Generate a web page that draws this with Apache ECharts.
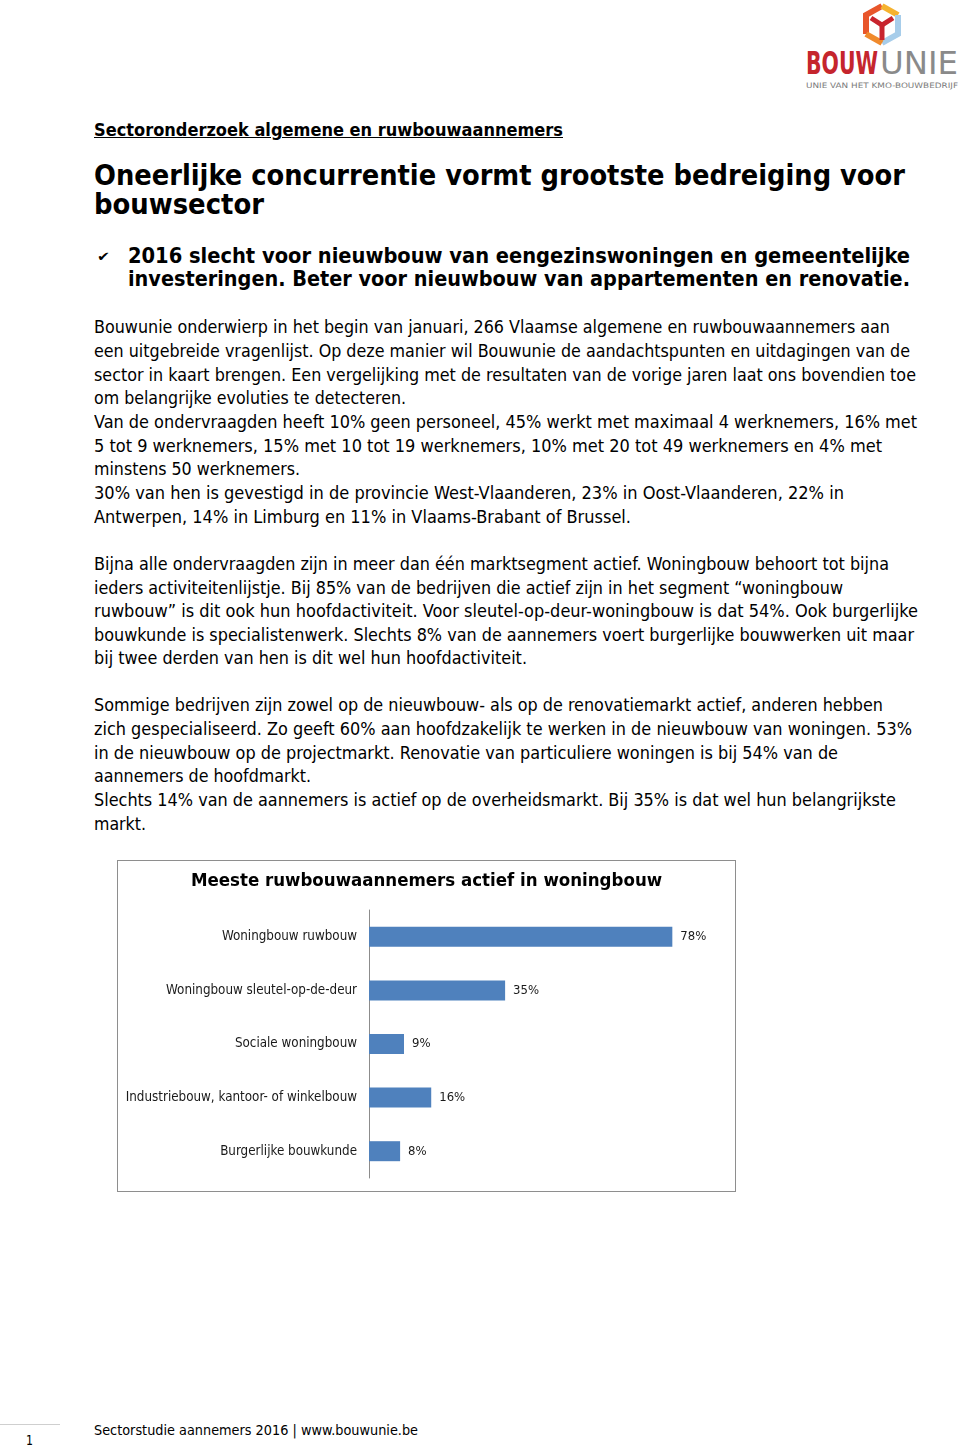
<!DOCTYPE html>
<html>
<head>
<meta charset="utf-8">
<script src="https://cdn.jsdelivr.net/npm/echarts@6/dist/echarts.min.js"></script>
<style>
  html,body{margin:0;padding:0;background:#fff;}
  body{width:960px;height:1449px;position:relative;overflow:hidden;font-family:"DejaVu Sans Condensed","DejaVu Sans",sans-serif;color:#000;}
  .ln{position:absolute;white-space:nowrap;transform-origin:0 50%;}
  #chartBox{position:absolute;left:117px;top:860px;width:617px;height:330px;border:1px solid #8e8e8e;}
  #chart{width:617px;height:330px;}
</style>
</head>
<body>
<!-- logo icon -->
<svg style="position:absolute;left:800px;top:0" width="160" height="48" viewBox="800 0 160 48">
  <polyline points="866,34 866,15 882,6" fill="none" stroke="#e8562b" stroke-width="6" stroke-linejoin="miter"/>
  <polyline points="882,6 898,15" fill="none" stroke="#f5b22f" stroke-width="6"/>
  <polyline points="898,15 898,34 882,43" fill="none" stroke="#a7cdea" stroke-width="6"/>
  <polyline points="882,43 866,34" fill="none" stroke="#f08a2c" stroke-width="6"/>
  <polyline points="871,18 882,25 893,18" fill="none" stroke="#c8242e" stroke-width="5"/>
  <line x1="882" y1="24" x2="882" y2="40" stroke="#c8242e" stroke-width="5"/>
</svg>

<div id="page"></div>

<div id="chartBox"><div id="chart"></div></div>

<div style="position:absolute;left:0;top:1424px;width:60px;height:1px;background:#cfcfcf"></div>

<script>
// ---------- page text (text, left x, centre y, right x, style) ----------
const pageLines = [
  ["BOUW", 806, 62.5, 878, "logoB"],
  ["UNIE", 880, 62.5, 958, "logoU"],
  ["UNIE VAN HET KMO-BOUWBEDRIJF", 806, 85.5, 958, "logoS"],
  ["Sectoronderzoek algemene en ruwbouwaannemers", 94, 130, 563, "sub"],
  ["Oneerlijke concurrentie vormt grootste bedreiging voor", 94, 176, 905, "h1"],
  ["bouwsector", 94, 205, 264, "h1"],
  ["2016 slecht voor nieuwbouw van eengezinswoningen en gemeentelijke", 128, 256, 910, "h2"],
  ["investeringen. Beter voor nieuwbouw van appartementen en renovatie.", 128, 279, 910, "h2"],
  ["Bouwunie onderwierp in het begin van januari, 266 Vlaamse algemene en ruwbouwaannemers aan", 94, 327, 890, "body"],
  ["een uitgebreide vragenlijst. Op deze manier wil Bouwunie de aandachtspunten en uitdagingen van de", 94, 351, 910, "body"],
  ["sector in kaart brengen. Een vergelijking met de resultaten van de vorige jaren laat ons bovendien toe", 94, 375, 916, "body"],
  ["om belangrijke evoluties te detecteren.", 94, 398, 406, "body"],
  ["Van de ondervraagden heeft 10% geen personeel, 45% werkt met maximaal 4 werknemers, 16% met", 94, 422, 917, "body"],
  ["5 tot 9 werknemers, 15% met 10 tot 19 werknemers, 10% met 20 tot 49 werknemers en 4% met", 94, 446, 882, "body"],
  ["minstens 50 werknemers.", 94, 469, 300, "body"],
  ["30% van hen is gevestigd in de provincie West-Vlaanderen, 23% in Oost-Vlaanderen, 22% in", 94, 493, 844, "body"],
  ["Antwerpen, 14% in Limburg en 11% in Vlaams-Brabant of Brussel.", 94, 517, 631, "body"],
  ["Bijna alle ondervraagden zijn in meer dan één marktsegment actief. Woningbouw behoort tot bijna", 94, 564, 889, "body"],
  ["ieders activiteitenlijstje. Bij 85% van de bedrijven die actief zijn in het segment \u201cwoningbouw", 94, 588, 843, "body"],
  ["ruwbouw\u201d is dit ook hun hoofdactiviteit. Voor sleutel-op-deur-woningbouw is dat 54%. Ook burgerlijke", 94, 611, 918, "body"],
  ["bouwkunde is specialistenwerk. Slechts 8% van de aannemers voert burgerlijke bouwwerken uit maar", 94, 635, 914, "body"],
  ["bij twee derden van hen is dit wel hun hoofdactiviteit.", 94, 658, 527, "body"],
  ["Sommige bedrijven zijn zowel op de nieuwbouw- als op de renovatiemarkt actief, anderen hebben", 94, 705, 883, "body"],
  ["zich gespecialiseerd. Zo geeft 60% aan hoofdzakelijk te werken in de nieuwbouw van woningen. 53%", 94, 729, 912, "body"],
  ["in de nieuwbouw op de projectmarkt. Renovatie van particuliere woningen is bij 54% van de", 94, 753, 838, "body"],
  ["aannemers de hoofdmarkt.", 94, 776, 311, "body"],
  ["Slechts 14% van de aannemers is actief op de overheidsmarkt. Bij 35% is dat wel hun belangrijkste", 94, 800, 896, "body"],
  ["markt.", 94, 824, 146, "body"],
  ["Sectorstudie aannemers 2016 | www.bouwunie.be", 94, 1430, 418, "foot"],
  ["1", 26, 1440, 33, "foot"],
  ["\u2714", 97, 257, 110, "chk"]
];
const styles = {
  logoB:{fontSize:32, weight:"bold", lh:26, color:"#c5252d"},
  logoU:{fontSize:32, weight:"normal", lh:26, color:"#8a8a8a"},
  logoS:{fontSize:7.5, weight:"normal", lh:9, color:"#7a7a7a", family:'"DejaVu Sans"'},
  sub:  {fontSize:17, weight:"bold", lh:22, deco:"underline"},
  h1:   {fontSize:28, weight:"bold", lh:28},
  h2:   {fontSize:21, weight:"bold", lh:23},
  body: {fontSize:17, weight:"normal", lh:23},
  foot: {fontSize:14.5, weight:"normal", lh:18},
  chk:  {fontSize:13, weight:"normal", lh:16}
};
const page = document.getElementById('page');
pageLines.forEach(([t, x, cy, rx, st]) => {
  const s = styles[st];
  const d = document.createElement('div');
  d.className = 'ln';
  d.textContent = t;
  d.style.left = x + 'px';
  d.style.top = (cy - s.lh / 2) + 'px';
  d.style.fontSize = s.fontSize + 'px';
  d.style.lineHeight = s.lh + 'px';
  d.style.height = s.lh + 'px';
  d.style.fontWeight = s.weight;
  if (s.color) d.style.color = s.color;
  if (s.family) d.style.fontFamily = s.family;
  if (s.deco) d.style.textDecoration = s.deco;
  page.appendChild(d);
  const w = d.getBoundingClientRect().width;
  const target = rx - x;
  if (w > 0) d.style.transform = 'scaleX(' + (target / w).toFixed(4) + ')';
});

// ---------- chart data ----------
const categories = ["Woningbouw ruwbouw", "Woningbouw sleutel-op-de-deur", "Sociale woningbouw", "Industriebouw, kantoor- of winkelbouw", "Burgerlijke bouwkunde"];
const values = [78, 35, 9, 16, 8];
const chartTitle = "Meeste ruwbouwaannemers actief in woningbouw";

const chart = echarts.init(document.getElementById('chart'), null, {renderer: 'canvas'});
chart.setOption({
  animation: false,
  title: {
    text: chartTitle, left: 'center', top: 6,
    textStyle: {fontFamily: '"DejaVu Sans Condensed"', fontWeight: 'bold', fontSize: 18.5, color: '#000'}
  },
  grid: {left: 251, top: 49, width: 350, height: 268, containLabel: false},
  xAxis: {
    type: 'value', min: 0, max: 90, show: false
  },
  yAxis: {
    type: 'category', data: categories, inverse: true,
    axisLine: {show: true, lineStyle: {color: '#8c8c8c', width: 1}},
    axisTick: {show: false},
    axisLabel: {margin: 12, fontFamily: '"DejaVu Sans Condensed"', fontSize: 13.3, color: '#1a1a1a'}
  },
  series: [{
    type: 'bar', data: values, barWidth: 20,
    itemStyle: {color: '#4f81bd'},
    label: {show: true, position: 'right', distance: 8, formatter: '{c}%',
      fontFamily: '"DejaVu Sans Condensed"', fontSize: 13, color: '#1a1a1a'}
  }]
});
</script>
</body>
</html>
